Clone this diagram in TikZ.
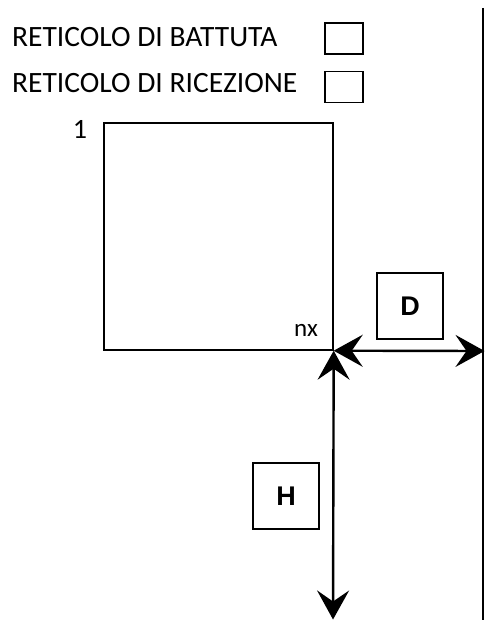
\documentclass[tikz,border=0pt]{standalone}
\usepackage{fontspec}
\setmainfont{Carlito}
\newfontfamily\arialfont{Liberation Sans}
\usetikzlibrary{arrows.meta}
\begin{document}
\begin{tikzpicture}[x=1pt,y=-1pt,
  lbl/.style={anchor=base west,inner sep=0pt,font=\fontsize{29.5}{32}\selectfont},
  smallbox/.style={draw,line width=1.2pt,minimum width=38pt,minimum height=31pt,inner sep=0pt},
  letterbox/.style={draw,line width=1.3pt,minimum width=66pt,minimum height=66pt,inner sep=0pt,font=\arialfont\bfseries\fontsize{27}{30}\selectfont},
  dim/.style={line width=2.4pt,{Stealth[length=29pt,width=32pt,inset=11pt]}-{Stealth[length=29pt,width=32pt,inset=11pt]}}]
\useasboundingbox (0,0) rectangle (485,620);
\node[lbl] (t1) at (12,46.5) {RETICOLO DI BATTUTA};
\node[lbl] (t2) at (12,93) {RETICOLO DI RICEZIONE};
\node[smallbox] (b1) at (344,38.5) {};
\node[smallbox] (b2) at (344,87) {};
\coordinate (wtop) at (483,8);
\coordinate (wbot) at (483,620);
\draw[line width=1.4pt] (wtop) -- (wbot);
\node[draw,line width=1.4pt,minimum width=229pt,minimum height=227pt,inner sep=0pt] (sq) at (218.5,236.5) {};
\node[anchor=base,inner sep=0pt,font=\fontsize{28}{30}\selectfont] (one) at (80,139) {1};
\node[anchor=base,inner sep=0pt,font=\fontsize{25}{28}\selectfont] (nx) at (306,336) {nx};
\node[letterbox] (D) at (410,306) {D};
\node[letterbox] (H) at (286,496) {H};
\coordinate (wall) at (484.5,351);
\coordinate (floor) at (333,619.5);
\draw[dim] (sq.south east) -- (wall);
\draw[dim] (sq.south east) -- (floor);
\end{tikzpicture}
\end{document}
